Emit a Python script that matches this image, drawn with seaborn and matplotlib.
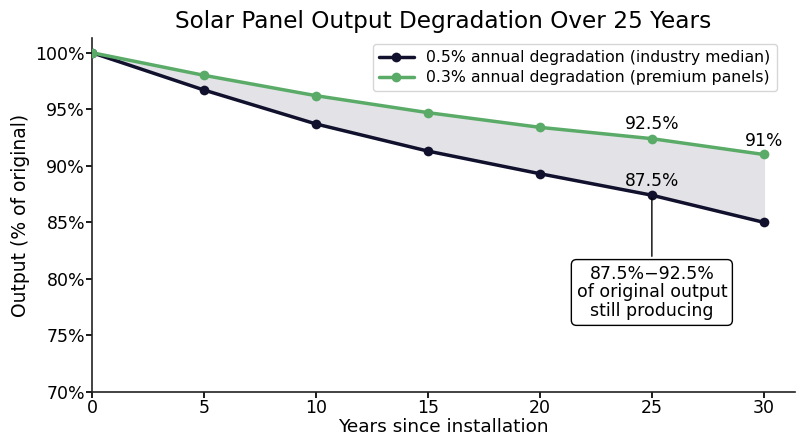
import matplotlib
matplotlib.use("Agg")
import matplotlib.pyplot as plt
import seaborn as sns
import pandas as pd
from matplotlib.ticker import FuncFormatter

# datos
years = [0, 5, 10, 15, 20, 25, 30]
median_out = [100, 96.7, 93.7, 91.3, 89.3, 87.4, 85.0]
premium_out = [100, 98.0, 96.2, 94.7, 93.4, 92.4, 91.0]
lab_median = "0.5% annual degradation (industry median)"
lab_premium = "0.3% annual degradation (premium panels)"

sns.set_theme(style="white")
plt.rcParams['font.family'] = ['DejaVu Sans']
plt.rcParams['text.color'] = 'black'
plt.rcParams['axes.labelcolor'] = 'black'
plt.rcParams['xtick.color'] = 'black'
plt.rcParams['ytick.color'] = 'black'

df = pd.DataFrame({"year": years * 2,
                   "output": median_out + premium_out,
                   "serie": [lab_median] * 7 + [lab_premium] * 7})

fig, ax = plt.subplots(figsize=(8, 4.47), dpi=100)
fig.subplots_adjust(left=0.115, right=0.994, bottom=0.123, top=0.915)

ax.fill_between(years, median_out, premium_out, color="#e2e2e7", zorder=1)
sns.lineplot(data=df, x="year", y="output", hue="serie",
             palette={lab_median: "#11112e", lab_premium: "#5aab67"},
             marker="o", markersize=7, markeredgewidth=0, linewidth=2.5,
             ax=ax, zorder=3)

ax.set_xlim(0, 31.4)
ax.set_ylim(70, 101.3)
ax.set_xticks(range(0, 31, 5))
ax.set_yticks(range(70, 101, 5))
ax.yaxis.set_major_formatter(FuncFormatter(lambda v, p: f"{v:.0f}%"))
ax.tick_params(axis="both", labelsize=12.5, length=4, left=True, bottom=True, pad=1)
for s in ["top", "right"]:
    ax.spines[s].set_visible(False)
for s in ["left", "bottom"]:
    ax.spines[s].set_color("#222222")
    ax.spines[s].set_linewidth(1.2)

ax.set_title("Solar Panel Output Degradation Over 25 Years", fontsize=16.7, pad=7, color="black")
ax.set_xlabel("Years since installation", fontsize=13.3, labelpad=1)
ax.set_ylabel("Output (% of original)", fontsize=13.5)

# etiquetas de valores
ax.text(25, premium_out[5] + 0.5, "92.5%", ha="center", va="bottom", fontsize=12.3)
ax.text(30, premium_out[6] + 0.4, "91%", ha="center", va="bottom", fontsize=12.3)
ax.text(25, median_out[5] + 0.5, "87.5%", ha="center", va="bottom", fontsize=12.3)

ax.annotate("87.5%\u221292.5%\nof original output\nstill producing",
            xy=(25, median_out[5]), xytext=(25, 78.8),
            ha="center", va="center", fontsize=12.5, linespacing=1.05,
            bbox=dict(boxstyle="round,pad=0.3", fc="white", ec="black", lw=1),
            arrowprops=dict(arrowstyle="-", color="black", lw=1), zorder=4)

leg = ax.legend(loc="upper right", fontsize=11.3, frameon=True,
                bbox_to_anchor=(0.985, 1.005), handlelength=2.2, borderpad=0.4,
                labelspacing=0.3)
leg.get_frame().set_edgecolor("#cccccc")

plt.savefig("out.png", dpi=100)
